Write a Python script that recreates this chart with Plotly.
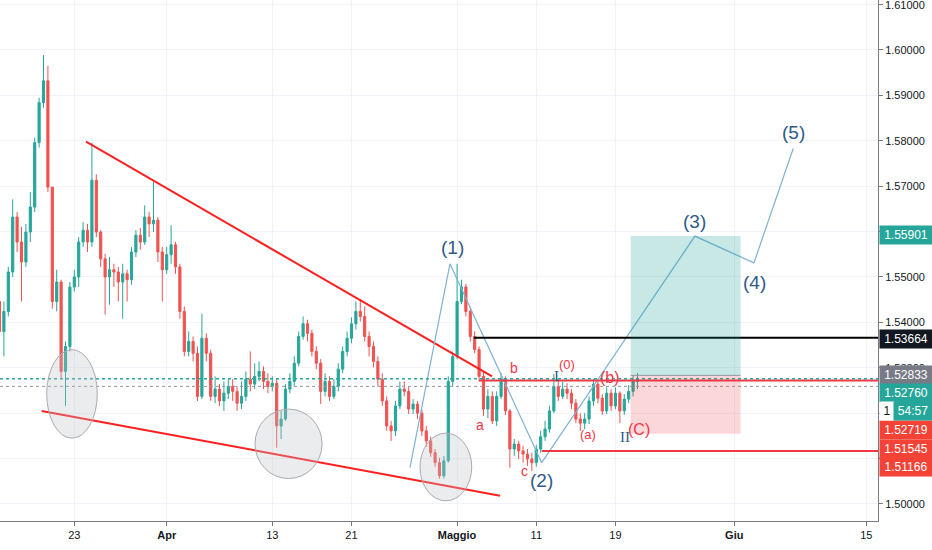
import plotly.graph_objects as go
import numpy as np

# EURCAD, candele (3 per giorno di borsa)
# asse x = giorno di borsa, 23 marzo = 0
primo_slot = -5.667
apertura0 = 1.5446
chiusure = [
    1.5380, 1.5424, 1.5511, 1.5632, 1.5577, 1.5533, 1.5599, 1.5654, 1.5796, 1.5884,
    1.5932, 1.5698, 1.5446, 1.5489, 1.5292, 1.5347, 1.5478, 1.5500, 1.5577, 1.5603,
    1.5577, 1.5713, 1.5599, 1.5540, 1.5500, 1.5516, 1.5511, 1.5489, 1.5507, 1.5494,
    1.5555, 1.5592, 1.5577, 1.5632, 1.5617, 1.5625, 1.5555, 1.5516, 1.5549, 1.5571,
    1.5522, 1.5424, 1.5336, 1.5358, 1.5332, 1.5237, 1.5365, 1.5332, 1.5237, 1.5253,
    1.5227, 1.5244, 1.5259, 1.5248, 1.5222, 1.5237, 1.5275, 1.5264, 1.5281, 1.5292,
    1.5270, 1.5259, 1.5266, 1.5172, 1.5187, 1.5253, 1.5270, 1.5310, 1.5369, 1.5397,
    1.5376, 1.5336, 1.5310, 1.5248, 1.5270, 1.5237, 1.5259, 1.5297, 1.5336, 1.5365,
    1.5397, 1.5424, 1.5413, 1.5369, 1.5347, 1.5314, 1.5275, 1.5227, 1.5172, 1.5161,
    1.5216, 1.5253, 1.5248, 1.5209, 1.5220, 1.5200, 1.5161, 1.5139, 1.5113, 1.5091,
    1.5062, 1.5095, 1.5270, 1.5325, 1.5446, 1.5478, 1.5424, 1.5369, 1.5340, 1.5281,
    1.5209, 1.5237, 1.5183, 1.5237, 1.5275, 1.5205, 1.5121, 1.5132, 1.5117, 1.5110,
    1.5099, 1.5091, 1.5121, 1.5148, 1.5165, 1.5205, 1.5259, 1.5237, 1.5253, 1.5244,
    1.5222, 1.5187, 1.5178, 1.5187, 1.5227, 1.5264, 1.5233, 1.5205, 1.5244, 1.5216,
    1.5244, 1.5205, 1.5231, 1.5248, 1.5270, 1.5276,
]
massimi = [
    1.5457, 1.5446, 1.5522, 1.5671, 1.5643, 1.5610, 1.5617, 1.5687, 1.5807, 1.5895,
    1.5989, 1.5965, 1.5698, 1.5516, 1.5494, 1.5358, 1.5489, 1.5516, 1.5588, 1.5621,
    1.5617, 1.5796, 1.5726, 1.5603, 1.5551, 1.5544, 1.5529, 1.5522, 1.5529, 1.5516,
    1.5566, 1.5603, 1.5608, 1.5658, 1.5643, 1.5709, 1.5632, 1.5566, 1.5566, 1.5614,
    1.5577, 1.5529, 1.5435, 1.5380, 1.5369, 1.5347, 1.5419, 1.5376, 1.5340, 1.5281,
    1.5264, 1.5270, 1.5275, 1.5275, 1.5259, 1.5270, 1.5292, 1.5336, 1.5310, 1.5314,
    1.5303, 1.5288, 1.5281, 1.5275, 1.5205, 1.5264, 1.5288, 1.5325, 1.5380, 1.5413,
    1.5406, 1.5384, 1.5347, 1.5319, 1.5288, 1.5281, 1.5275, 1.5310, 1.5347, 1.5380,
    1.5411, 1.5446, 1.5452, 1.5435, 1.5380, 1.5358, 1.5325, 1.5288, 1.5237, 1.5183,
    1.5227, 1.5270, 1.5270, 1.5259, 1.5231, 1.5227, 1.5209, 1.5172, 1.5148, 1.5121,
    1.5102, 1.5106, 1.5281, 1.5336, 1.5529, 1.5494, 1.5485, 1.5435, 1.5380, 1.5347,
    1.5292, 1.5253, 1.5248, 1.5248, 1.5288, 1.5281, 1.5209, 1.5143, 1.5139, 1.5128,
    1.5121, 1.5113, 1.5130, 1.5161, 1.5183, 1.5216, 1.5286, 1.5275, 1.5270, 1.5266,
    1.5253, 1.5231, 1.5200, 1.5200, 1.5237, 1.5275, 1.5270, 1.5242, 1.5257, 1.5253,
    1.5257, 1.5248, 1.5242, 1.5262, 1.5284, 1.5288,
]
minimi = [
    1.5336, 1.5325, 1.5413, 1.5500, 1.5555, 1.5446, 1.5522, 1.5577, 1.5643, 1.5785,
    1.5873, 1.5687, 1.5430, 1.5424, 1.5277, 1.5216, 1.5336, 1.5468, 1.5478, 1.5566,
    1.5555, 1.5566, 1.5588, 1.5522, 1.5417, 1.5439, 1.5478, 1.5446, 1.5408, 1.5446,
    1.5483, 1.5544, 1.5560, 1.5571, 1.5588, 1.5599, 1.5533, 1.5446, 1.5507, 1.5529,
    1.5507, 1.5408, 1.5325, 1.5325, 1.5314, 1.5227, 1.5231, 1.5314, 1.5227, 1.5222,
    1.5216, 1.5205, 1.5231, 1.5227, 1.5205, 1.5209, 1.5227, 1.5248, 1.5253, 1.5270,
    1.5253, 1.5244, 1.5248, 1.5124, 1.5143, 1.5183, 1.5244, 1.5259, 1.5303, 1.5362,
    1.5358, 1.5325, 1.5297, 1.5220, 1.5237, 1.5227, 1.5231, 1.5248, 1.5288, 1.5325,
    1.5354, 1.5384, 1.5402, 1.5358, 1.5325, 1.5301, 1.5259, 1.5216, 1.5161, 1.5139,
    1.5150, 1.5209, 1.5237, 1.5198, 1.5198, 1.5187, 1.5150, 1.5126, 1.5104, 1.5082,
    1.5056, 1.5056, 1.5091, 1.5259, 1.5319, 1.5440, 1.5413, 1.5358, 1.5332, 1.5270,
    1.5194, 1.5189, 1.5176, 1.5172, 1.5231, 1.5196, 1.5080, 1.5106, 1.5099, 1.5091,
    1.5084, 1.5073, 1.5082, 1.5113, 1.5139, 1.5157, 1.5200, 1.5227, 1.5231, 1.5231,
    1.5209, 1.5178, 1.5161, 1.5165, 1.5176, 1.5216, 1.5222, 1.5196, 1.5198, 1.5205,
    1.5209, 1.5178, 1.5196, 1.5222, 1.5237, 1.5253,
]

# etichette asse tempo
date_pos = [0, 7, 15, 21, 29, 35, 41, 50, 60]
date_txt = ['23', '<b>Apr</b>', '13', '21', '<b>Maggio</b>', '11', '19', '<b>Giu</b>', '15']

# disegni: trendline, onde di Elliott, livelli
trend_sup_x = [0.89, 31.65]
trend_sup_y = [1.5798, 1.5281]
trend_inf_x = [-2.47, 32.25]
trend_inf_y = [1.5205, 1.5018]
onda_x = [25.43, 28.46, 35.41, 47.02, 51.49, 54.47]
onda_y = [1.5080, 1.5529, 1.5091, 1.5590, 1.5531, 1.5783]
onda_nomi = ['(1)', '(2)', '(3)', '(4)', '(5)']

livello_nero = 1.53664
livello_rosso_alto = 1.52719
livello_rosso_basso = 1.51166
ultimo_prezzo = 1.52760
linea_grigia = 1.5259
entrata = 1.52833
target = 1.55901
stop = 1.51545
prezzo_top = 1.61

x_range = [-5.63, 60.89]
y_range = [1.49625, 1.61101]

n = len(chiusure)
assert len(massimi) == n and len(minimi) == n
xs = primo_slot + np.arange(n) / 3
aperture = [apertura0] + chiusure[:-1]

VERDE = '#26a69a'
ROSSO = '#ef5350'
BLU = '#2e5b86'
FONT_ASSE = 'Liberation Sans Narrow, Liberation Sans'

fig = go.Figure()

fig.add_trace(go.Candlestick(
    x=xs, open=aperture, high=massimi, low=minimi, close=chiusure,
    increasing=dict(line=dict(color=VERDE, width=1), fillcolor=VERDE),
    decreasing=dict(line=dict(color=ROSSO, width=1), fillcolor=ROSSO),
    whiskerwidth=0, showlegend=False, hoverinfo='skip'
))

# trendline rosse
for tx, ty in [(trend_sup_x, trend_sup_y), (trend_inf_x, trend_inf_y)]:
    fig.add_trace(go.Scatter(x=tx, y=ty, mode='lines', line=dict(color='#ff1f1f', width=2),
                             showlegend=False, hoverinfo='skip'))

# conteggio onde
fig.add_trace(go.Scatter(x=onda_x, y=onda_y, mode='lines', line=dict(color='#7fb2d6', width=1.2),
                         showlegend=False, hoverinfo='skip'))

shapes = []
# livelli orizzontali
shapes.append(dict(type='line', xref='x', yref='y', x0=30.28, x1=x_range[1], y0=livello_nero, y1=livello_nero,
                   line=dict(color='#000000', width=2)))
shapes.append(dict(type='line', xref='x', yref='y', x0=30.66, x1=x_range[1], y0=livello_rosso_alto, y1=livello_rosso_alto,
                   line=dict(color='#f23645', width=2)))
shapes.append(dict(type='line', xref='x', yref='y', x0=35.41, x1=x_range[1], y0=livello_rosso_basso, y1=livello_rosso_basso,
                   line=dict(color='#f23645', width=2)))
shapes.append(dict(type='line', xref='x', yref='y', x0=x_range[0], x1=x_range[1], y0=ultimo_prezzo, y1=ultimo_prezzo,
                   line=dict(color='#26a69a', width=1.5, dash='dot')))
shapes.append(dict(type='line', xref='x', yref='y', x0=x_range[0], x1=x_range[1], y0=linea_grigia, y1=linea_grigia,
                   line=dict(color='#9598a1', width=1, dash='dot')))
# posizione long
shapes.append(dict(type='rect', xref='x', yref='y', x0=42.15, x1=50.48, y0=entrata, y1=target,
                   fillcolor='rgba(0,150,136,0.22)', line=dict(width=0)))
shapes.append(dict(type='rect', xref='x', yref='y', x0=42.15, x1=50.48, y0=stop, y1=entrata,
                   fillcolor='rgba(242,54,69,0.2)', line=dict(width=0)))
shapes.append(dict(type='line', xref='x', yref='y', x0=42.15, x1=50.48, y0=entrata, y1=entrata,
                   line=dict(color='#9598a1', width=1)))
# cerchi sui minimi
for cx0, cx1, cy0, cy1 in [(-2.09, 1.74, 1.5145, 1.5340), (13.69, 18.77, 1.5056, 1.5209), (26.19, 30.11, 1.5007, 1.5156)]:
    shapes.append(dict(type='circle', xref='x', yref='y', x0=cx0, x1=cx1, y0=cy0, y1=cy1,
                       fillcolor='rgba(190,192,200,0.3)', line=dict(color='#a9abb3', width=1)))

ann = []
onda_pos = [(28.64, 1.5564), (35.36, 1.5051), (47.02, 1.5623), (51.57, 1.5487), (54.45, 1.5818)]
for nome, (ax, ay) in zip(onda_nomi, onda_pos):
    ann.append(dict(x=ax, y=ay, text=nome, showarrow=False,
                    font=dict(family='Liberation Sans', size=19, color=BLU)))

rossi = [('a', 30.73, 1.5174, 14), ('b', 33.31, 1.5299, 14), ('c', 34.14, 1.5073, 14),
         ('(0)', 37.33, 1.5308, 13), ('(a)', 38.92, 1.5152, 13), ('(b)', 40.58, 1.5279, 16),
         ('(C)', 42.75, 1.5165, 16)]
for t, ax, ay, s in rossi:
    ann.append(dict(x=ax, y=ay, text=t, showarrow=False,
                    font=dict(family='Liberation Sans', size=s, color='#f23645')))
for t, ax, ay in [('I', 36.5, 1.5283), ('II', 41.72, 1.5148)]:
    ann.append(dict(x=ax, y=ay, text=t, showarrow=False,
                    font=dict(family='Liberation Serif', size=15, color=BLU)))

# etichetta 1.61000 in cima (plotly la nasconde perché tocca il bordo)
ann.append(dict(xref='paper', yref='y', x=1, y=prezzo_top, xanchor='left', yanchor='middle', xshift=5,
                text=f'{prezzo_top:.5f}', showarrow=False,
                font=dict(family=FONT_ASSE, size=11, color='#131722')))

# etichette prezzo sull'asse destro
etichette = [
    ('1.55901', 235, VERDE), ('1.53664', 339, '#131722'), ('1.52833', 375, '#787b86'),
    ('1.52760', 393, VERDE), ('1.52719', 430, '#f44336'), ('1.51545', 449, '#f44336'),
    ('1.51166', 467, '#f44336'),
]
for t, ypix, col in etichette:
    ann.append(dict(xref='paper', yref='paper', x=1, y=1 - ypix / 521, xanchor='left', yanchor='middle',
                    xshift=1, text=t, showarrow=False, bgcolor=col, width=50, height=16, borderpad=1,
                    font=dict(family=FONT_ASSE, size=12, color='white')))
ann.append(dict(xref='paper', yref='paper', x=1, y=1 - 411 / 521, xanchor='left', yanchor='middle',
                xshift=1, text='1', showarrow=False, bgcolor='white', width=12, height=16, borderpad=1,
                font=dict(family=FONT_ASSE, size=12, color='#131722')))
ann.append(dict(xref='paper', yref='paper', x=1, y=1 - 411 / 521, xanchor='left', yanchor='middle',
                xshift=15, text='54:57', showarrow=False, bgcolor=VERDE, width=36, height=16, borderpad=1,
                font=dict(family=FONT_ASSE, size=12, color='white')))

fig.update_layout(
    width=932, height=550,
    margin=dict(l=0, r=54, t=0, b=29),
    paper_bgcolor='white', plot_bgcolor='white',
    shapes=shapes, annotations=ann,
    showlegend=False,
    xaxis=dict(range=x_range, rangeslider=dict(visible=False), tickmode='array',
               tickvals=date_pos, ticktext=date_txt, showgrid=True, gridcolor='#f0f3fa',
               zeroline=False, showline=True, linecolor='#787b86', ticks='outside', ticklen=4,
               tickcolor='#787b86', tickfont=dict(family=FONT_ASSE, size=11, color='#131722')),
    yaxis=dict(range=y_range, side='right', tickmode='linear', tick0=1.50, dtick=0.01, tickformat='.5f',
               showgrid=True, gridcolor='#f0f3fa', zeroline=False, showline=True, linecolor='#787b86',
               ticks='outside', ticklen=4, tickcolor='#787b86',
               tickfont=dict(family=FONT_ASSE, size=11, color='#131722')),
)

# niente margine della pagina e niente barra strumenti
fig.write_html("out.html", config={'displayModeBar': False},
               post_script="document.body.style.margin='0';")
